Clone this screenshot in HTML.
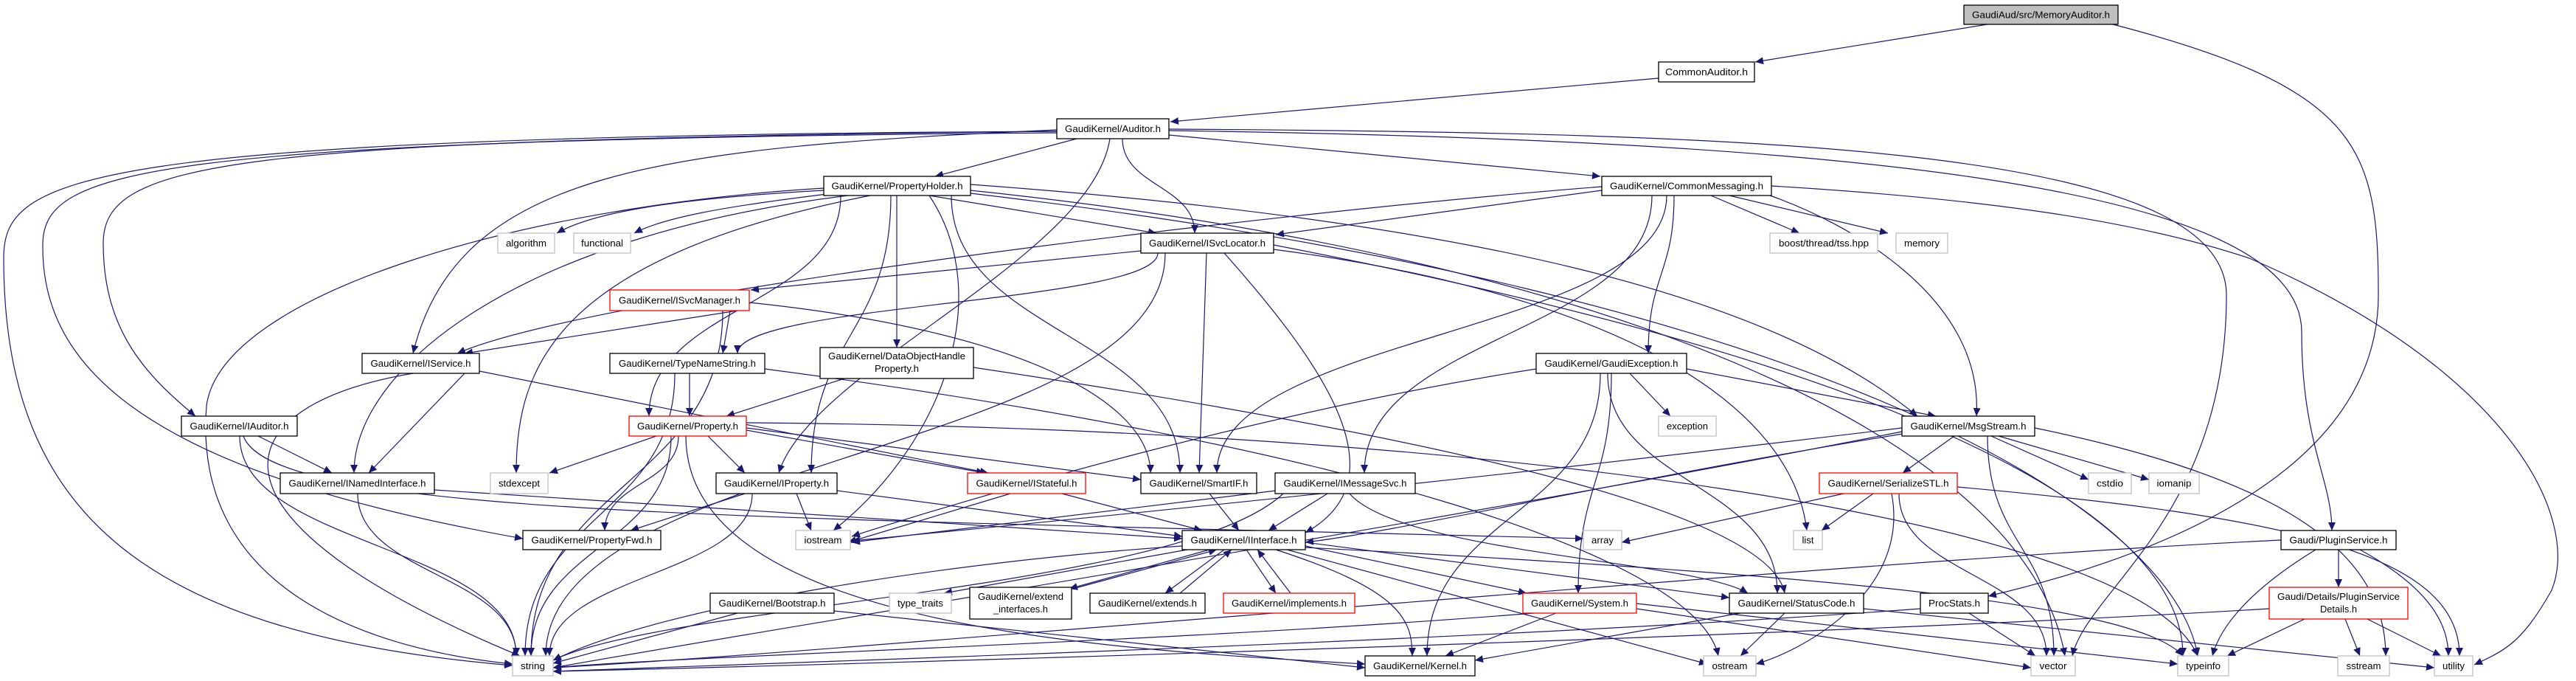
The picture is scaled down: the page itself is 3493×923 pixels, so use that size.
<!DOCTYPE html>
<html><head><meta charset="utf-8"><style>
html,body{margin:0;padding:0;background:#fff;}
svg{display:block;}
text{font-family:"Liberation Sans",sans-serif;font-size:12.5px;fill:#000;}
</style></head><body>
<svg width="3493" height="923" viewBox="0 0 3493 923" xmlns="http://www.w3.org/2000/svg">
<defs><marker id="a" markerUnits="userSpaceOnUse" markerWidth="12" markerHeight="10" refX="11" refY="5" orient="auto"><path d="M0,0 L11,5 L0,10 z" fill="#191970"/></marker></defs>
<g fill="none" stroke="#191970" stroke-width="1.2" marker-end="url(#a)">
<path d="M2695 33 L2380 84"/>
<path d="M2865 33 C3200 120 3225 200 3225 400 C3225 650 2900 760 2696 808"/>
<path d="M2249 106 L1587 165"/>
<path d="M1460 188 L1268 239"/>
<path d="M1522 188 C1522 252 1620 252 1620 316"/>
<path d="M1585 183 L2170 239"/>
<path d="M1433 176 C900 200 620 230 560 479"/>
<path d="M1433 178 C300 190 140 220 140 330 C140 450 200 510 265 564"/>
<path d="M1433 180 C200 190 60 230 58 330 C55 500 200 640 709 730"/>
<path d="M1433 178 C100 185 5 240 5 350 C5 700 200 860 695 902"/>
<path d="M1505 188 C1480 350 1100 500 1056 641"/>
<path d="M1585 175 C2400 180 3019 200 3019 400 C3019 700 2830 800 2810 889"/>
<path d="M1585 177 C2500 190 3121 250 3121 450 C3121 600 3162 650 3162 719"/>
<path d="M1117 258 C900 270 800 290 755 316"/>
<path d="M1130 262 C980 280 900 295 860 316"/>
<path d="M1260 265 L1568 316"/>
<path d="M1117 255 C700 280 300 400 280 550 C260 800 500 880 695 900"/>
<path d="M1150 265 C700 320 480 500 480 641"/>
<path d="M1140 265 C1140 415 880 415 880 564"/>
<path d="M1216 265 L1216 471"/>
<path d="M1208 265 C1208 453 1100 453 1100 641"/>
<path d="M1260 265 C1350 400 1280 600 1130 719"/>
<path d="M1180 265 C750 350 700 500 700 641"/>
<path d="M1290 265 C1290 453 1600 453 1600 641"/>
<path d="M1316 250 C2000 300 2400 400 2600 564"/>
<path d="M1316 258 C2200 350 2750 600 2800 889"/>
<path d="M1316 262 C2500 400 2950 700 2980 889"/>
<path d="M2172 258 L1730 318"/>
<path d="M2320 265 L2440 316"/>
<path d="M2345 265 L2560 316"/>
<path d="M2400 265 C2500 300 2690 400 2680 564"/>
<path d="M2270 265 C2270 372 2235 372 2235 479"/>
<path d="M2240 265 C2240 453 1850 453 1850 641"/>
<path d="M2260 265 C2260 453 1650 453 1650 641"/>
<path d="M2402 252 C2700 270 2900 300 3050 350 C3400 500 3500 700 3460 800 C3420 870 3400 880 3355 901"/>
<path d="M2172 253 C1700 290 800 400 620 479"/>
<path d="M1547 340 L1018 393"/>
<path d="M1570 343 C1570 411 1000 411 1000 479"/>
<path d="M1636 343 L1626 641"/>
<path d="M1660 343 C1800 500 1900 650 1770 722"/>
<path d="M1580 343 C1580 616 740 616 740 889"/>
<path d="M1727 338 C2200 400 2430 550 2450 719"/>
<path d="M1727 332 C2600 500 2960 700 2960 889"/>
<path d="M1000 421 L630 479"/>
<path d="M990 421 L980 479"/>
<path d="M980 421 C980 655 720 655 720 889"/>
<path d="M1016 410 C1400 450 1560 550 1560 641"/>
<path d="M630 506 L500 641"/>
<path d="M560 506 C300 550 250 700 705 889"/>
<path d="M650 503 L1340 641"/>
<path d="M935 506 L935 564"/>
<path d="M915 506 C915 698 712 698 712 889"/>
<path d="M1037 500 C1800 600 2300 750 2330 889"/>
<path d="M1145 513 L985 564"/>
<path d="M1320 498 C2000 600 2400 700 2420 804"/>
<path d="M2210 506 L2265 564"/>
<path d="M2287 500 L2625 564"/>
<path d="M2180 506 C2180 655 2410 655 2410 804"/>
<path d="M2185 506 C2185 655 2140 655 2140 804"/>
<path d="M2170 506 C2170 698 1935 698 1935 889"/>
<path d="M2083 500 C1700 560 1300 680 1155 727"/>
<path d="M350 591 L450 641"/>
<path d="M325 591 C325 740 700 740 700 889"/>
<path d="M330 591 C370 700 1000 700 2147 730"/>
<path d="M890 591 L745 641"/>
<path d="M960 591 L1010 641"/>
<path d="M920 591 C920 655 820 655 820 719"/>
<path d="M910 591 C910 740 720 740 720 889"/>
<path d="M1012 580 L1547 650"/>
<path d="M930 591 C930 850 1500 880 1851 900"/>
<path d="M1012 573 C2000 580 2900 700 2980 889"/>
<path d="M1012 583 L1335 641"/>
<path d="M485 669 C485 779 700 779 700 889"/>
<path d="M589 664 L1603 730"/>
<path d="M1010 669 L855 719"/>
<path d="M1080 669 L1100 719"/>
<path d="M1020 669 C1020 779 745 779 745 889"/>
<path d="M1135 665 L1603 727"/>
<path d="M1440 669 L1630 719"/>
<path d="M1370 669 L1150 735"/>
<path d="M1640 669 L1680 719"/>
<path d="M1800 669 L1720 719"/>
<path d="M1740 669 C1600 800 900 820 750 895"/>
<path d="M1730 665 L1155 735"/>
<path d="M1830 669 C1900 750 2300 760 2370 804"/>
<path d="M2650 591 L2580 641"/>
<path d="M2700 591 L2832 650"/>
<path d="M2710 591 L2914 650"/>
<path d="M2695 591 C2695 740 2785 740 2785 889"/>
<path d="M2579 585 C2000 700 1000 860 750 905"/>
<path d="M2579 580 C2000 650 1500 700 1155 733"/>
<path d="M2759 580 C3100 650 3235 750 3235 889"/>
<path d="M2580 588 C2200 650 1900 720 1770 735"/>
<path d="M2500 669 L2199 735"/>
<path d="M2540 669 L2470 719"/>
<path d="M2565 669 C2590 800 2450 880 2381 900"/>
<path d="M2575 669 C2575 779 2775 779 2775 889"/>
<path d="M2654 660 C3100 700 3335 750 3335 889"/>
<path d="M1610 745 L1280 804"/>
<path d="M1640 745 L1450 798"/>
<path d="M1455 798 L1650 745"/>
<path d="M1660 745 L1580 804"/>
<path d="M1600 804 L1670 745"/>
<path d="M1690 745 L1730 804"/>
<path d="M1750 804 L1705 745"/>
<path d="M1770 740 L2070 804"/>
<path d="M1770 735 L2345 810"/>
<path d="M1730 745 C1900 800 1915 840 1915 889"/>
<path d="M1770 742 C2500 780 2900 820 2960 889"/>
<path d="M1745 745 L2315 900"/>
<path d="M1603 740 C1300 760 900 820 750 895"/>
<path d="M2110 831 L1960 889"/>
<path d="M2080 831 C1600 870 900 890 750 905"/>
<path d="M2219 825 L2754 905"/>
<path d="M2219 818 L2953 900"/>
<path d="M2420 831 L2360 889"/>
<path d="M2360 831 L2000 895"/>
<path d="M2527 825 L3301 905"/>
<path d="M1000 831 L750 899"/>
<path d="M1131 828 L1851 905"/>
<path d="M2670 831 L2760 889"/>
<path d="M2604 825 C2000 870 1000 900 750 910"/>
<path d="M3171 745 L3171 796"/>
<path d="M3140 745 C3050 800 3010 850 3000 889"/>
<path d="M3093 732 C2500 760 1200 880 750 905"/>
<path d="M3200 745 C3300 800 3320 850 3320 889"/>
<path d="M3180 839 L3200 889"/>
<path d="M3210 839 L3310 889"/>
<path d="M3125 839 L3020 889"/>
<path d="M3077 825 C2500 860 1200 900 750 910"/>
</g>
<g stroke-width="1.3">
<rect x="2663" y="7" width="209" height="26" fill="#bfbfbf" stroke="#000"/><text x="2767.5" y="24.5" text-anchor="middle" textLength="187" lengthAdjust="spacingAndGlyphs">GaudiAud/src/MemoryAuditor.h</text>
<rect x="2249" y="84" width="130" height="27" fill="#fff" stroke="#000"/><text x="2314" y="102" text-anchor="middle" textLength="112" lengthAdjust="spacingAndGlyphs">CommonAuditor.h</text>
<rect x="1433" y="161" width="152" height="27" fill="#fff" stroke="#000"/><text x="1509" y="179" text-anchor="middle" textLength="130" lengthAdjust="spacingAndGlyphs">GaudiKernel/Auditor.h</text>
<rect x="1117" y="239" width="199" height="26" fill="#fff" stroke="#000"/><text x="1216.5" y="256.5" text-anchor="middle" textLength="178" lengthAdjust="spacingAndGlyphs">GaudiKernel/PropertyHolder.h</text>
<rect x="2172" y="239" width="230" height="26" fill="#fff" stroke="#000"/><text x="2287" y="256.5" text-anchor="middle" textLength="208" lengthAdjust="spacingAndGlyphs">GaudiKernel/CommonMessaging.h</text>
<rect x="675" y="316" width="77" height="27" fill="#fff" stroke="#bfbfbf"/><text x="713.5" y="334" text-anchor="middle" textLength="55" lengthAdjust="spacingAndGlyphs">algorithm</text>
<rect x="778" y="316" width="77" height="27" fill="#fff" stroke="#bfbfbf"/><text x="816.5" y="334" text-anchor="middle" textLength="57" lengthAdjust="spacingAndGlyphs">functional</text>
<rect x="1547" y="316" width="180" height="27" fill="#fff" stroke="#000"/><text x="1637" y="334" text-anchor="middle" textLength="158" lengthAdjust="spacingAndGlyphs">GaudiKernel/ISvcLocator.h</text>
<rect x="2400" y="316" width="146" height="27" fill="#fff" stroke="#bfbfbf"/><text x="2473" y="334" text-anchor="middle" textLength="122" lengthAdjust="spacingAndGlyphs">boost/thread/tss.hpp</text>
<rect x="2571" y="316" width="70" height="27" fill="#fff" stroke="#bfbfbf"/><text x="2606" y="334" text-anchor="middle" textLength="48" lengthAdjust="spacingAndGlyphs">memory</text>
<rect x="827" y="393" width="189" height="28" fill="#fff" stroke="#f00"/><text x="921.5" y="411.5" text-anchor="middle" textLength="165" lengthAdjust="spacingAndGlyphs">GaudiKernel/ISvcManager.h</text>
<rect x="491" y="479" width="159" height="27" fill="#fff" stroke="#000"/><text x="570.5" y="497" text-anchor="middle" textLength="136" lengthAdjust="spacingAndGlyphs">GaudiKernel/IService.h</text>
<rect x="827" y="479" width="210" height="27" fill="#fff" stroke="#000"/><text x="932" y="497" text-anchor="middle" textLength="186" lengthAdjust="spacingAndGlyphs">GaudiKernel/TypeNameString.h</text>
<rect x="1112" y="471" width="208" height="42" fill="#fff" stroke="#000"/><text x="1216" y="487" text-anchor="middle" textLength="186" lengthAdjust="spacingAndGlyphs">GaudiKernel/DataObjectHandle</text><text x="1216" y="504" text-anchor="middle" textLength="60" lengthAdjust="spacingAndGlyphs">Property.h</text>
<rect x="2083" y="479" width="204" height="27" fill="#fff" stroke="#000"/><text x="2185" y="497" text-anchor="middle" textLength="181" lengthAdjust="spacingAndGlyphs">GaudiKernel/GaudiException.h</text>
<rect x="246" y="564" width="157" height="27" fill="#fff" stroke="#000"/><text x="324.5" y="582" text-anchor="middle" textLength="134" lengthAdjust="spacingAndGlyphs">GaudiKernel/IAuditor.h</text>
<rect x="853" y="564" width="159" height="27" fill="#fff" stroke="#f00"/><text x="932.5" y="582" text-anchor="middle" textLength="137" lengthAdjust="spacingAndGlyphs">GaudiKernel/Property.h</text>
<rect x="2249" y="564" width="78" height="27" fill="#fff" stroke="#bfbfbf"/><text x="2288" y="582" text-anchor="middle" textLength="56" lengthAdjust="spacingAndGlyphs">exception</text>
<rect x="2579" y="564" width="180" height="27" fill="#fff" stroke="#000"/><text x="2669" y="582" text-anchor="middle" textLength="157" lengthAdjust="spacingAndGlyphs">GaudiKernel/MsgStream.h</text>
<rect x="380" y="641" width="209" height="28" fill="#fff" stroke="#000"/><text x="484.5" y="659.5" text-anchor="middle" textLength="186" lengthAdjust="spacingAndGlyphs">GaudiKernel/INamedInterface.h</text>
<rect x="665" y="641" width="78" height="28" fill="#fff" stroke="#bfbfbf"/><text x="704" y="659.5" text-anchor="middle" textLength="56" lengthAdjust="spacingAndGlyphs">stdexcept</text>
<rect x="971" y="641" width="164" height="28" fill="#fff" stroke="#000"/><text x="1053" y="659.5" text-anchor="middle" textLength="142" lengthAdjust="spacingAndGlyphs">GaudiKernel/IProperty.h</text>
<rect x="1312" y="641" width="160" height="28" fill="#fff" stroke="#f00"/><text x="1392" y="659.5" text-anchor="middle" textLength="137" lengthAdjust="spacingAndGlyphs">GaudiKernel/IStateful.h</text>
<rect x="1547" y="641" width="157" height="28" fill="#fff" stroke="#000"/><text x="1625.5" y="659.5" text-anchor="middle" textLength="134" lengthAdjust="spacingAndGlyphs">GaudiKernel/SmartIF.h</text>
<rect x="1729" y="641" width="190" height="28" fill="#fff" stroke="#000"/><text x="1824" y="659.5" text-anchor="middle" textLength="167" lengthAdjust="spacingAndGlyphs">GaudiKernel/IMessageSvc.h</text>
<rect x="2467" y="641" width="187" height="28" fill="#fff" stroke="#f00"/><text x="2560.5" y="659.5" text-anchor="middle" textLength="164" lengthAdjust="spacingAndGlyphs">GaudiKernel/SerializeSTL.h</text>
<rect x="2832" y="641" width="58" height="28" fill="#fff" stroke="#bfbfbf"/><text x="2861" y="659.5" text-anchor="middle" textLength="36" lengthAdjust="spacingAndGlyphs">cstdio</text>
<rect x="2914" y="641" width="68" height="28" fill="#fff" stroke="#bfbfbf"/><text x="2948" y="659.5" text-anchor="middle" textLength="47" lengthAdjust="spacingAndGlyphs">iomanip</text>
<rect x="709" y="719" width="187" height="26" fill="#fff" stroke="#000"/><text x="802.5" y="736.5" text-anchor="middle" textLength="164" lengthAdjust="spacingAndGlyphs">GaudiKernel/PropertyFwd.h</text>
<rect x="1079" y="719" width="74" height="26" fill="#fff" stroke="#bfbfbf"/><text x="1116" y="736.5" text-anchor="middle" textLength="51" lengthAdjust="spacingAndGlyphs">iostream</text>
<rect x="1603" y="719" width="167" height="26" fill="#fff" stroke="#000"/><text x="1686.5" y="736.5" text-anchor="middle" textLength="144" lengthAdjust="spacingAndGlyphs">GaudiKernel/IInterface.h</text>
<rect x="2147" y="719" width="52" height="26" fill="#fff" stroke="#bfbfbf"/><text x="2173" y="736.5" text-anchor="middle" textLength="30" lengthAdjust="spacingAndGlyphs">array</text>
<rect x="2432" y="719" width="39" height="26" fill="#fff" stroke="#bfbfbf"/><text x="2451.5" y="736.5" text-anchor="middle" textLength="16" lengthAdjust="spacingAndGlyphs">list</text>
<rect x="3093" y="719" width="156" height="26" fill="#fff" stroke="#000"/><text x="3171" y="736.5" text-anchor="middle" textLength="133" lengthAdjust="spacingAndGlyphs">Gaudi/PluginService.h</text>
<rect x="963" y="804" width="168" height="27" fill="#fff" stroke="#000"/><text x="1047" y="822" text-anchor="middle" textLength="145" lengthAdjust="spacingAndGlyphs">GaudiKernel/Bootstrap.h</text>
<rect x="1206" y="804" width="84" height="27" fill="#fff" stroke="#bfbfbf"/><text x="1248" y="822" text-anchor="middle" textLength="62" lengthAdjust="spacingAndGlyphs">type_traits</text>
<rect x="1315" y="796" width="138" height="43" fill="#fff" stroke="#000"/><text x="1384" y="813" text-anchor="middle" textLength="116" lengthAdjust="spacingAndGlyphs">GaudiKernel/extend</text><text x="1384" y="830" text-anchor="middle" textLength="74" lengthAdjust="spacingAndGlyphs">_interfaces.h</text>
<rect x="1478" y="804" width="156" height="27" fill="#fff" stroke="#000"/><text x="1556" y="822" text-anchor="middle" textLength="134" lengthAdjust="spacingAndGlyphs">GaudiKernel/extends.h</text>
<rect x="1659" y="804" width="178" height="27" fill="#fff" stroke="#f00"/><text x="1748" y="822" text-anchor="middle" textLength="156" lengthAdjust="spacingAndGlyphs">GaudiKernel/implements.h</text>
<rect x="2065" y="804" width="154" height="27" fill="#fff" stroke="#f00"/><text x="2142" y="822" text-anchor="middle" textLength="132" lengthAdjust="spacingAndGlyphs">GaudiKernel/System.h</text>
<rect x="2345" y="804" width="182" height="27" fill="#fff" stroke="#000"/><text x="2436" y="822" text-anchor="middle" textLength="159" lengthAdjust="spacingAndGlyphs">GaudiKernel/StatusCode.h</text>
<rect x="2604" y="804" width="92" height="27" fill="#fff" stroke="#000"/><text x="2650" y="822" text-anchor="middle" textLength="70" lengthAdjust="spacingAndGlyphs">ProcStats.h</text>
<rect x="3077" y="796" width="188" height="43" fill="#fff" stroke="#f00"/><text x="3171" y="813" text-anchor="middle" textLength="166" lengthAdjust="spacingAndGlyphs">Gaudi/Details/PluginService</text><text x="3171" y="830" text-anchor="middle" textLength="50" lengthAdjust="spacingAndGlyphs">Details.h</text>
<rect x="695" y="889" width="55" height="27" fill="#fff" stroke="#bfbfbf"/><text x="722.5" y="907" text-anchor="middle" textLength="33" lengthAdjust="spacingAndGlyphs">string</text>
<rect x="1851" y="889" width="149" height="27" fill="#fff" stroke="#000"/><text x="1925.5" y="907" text-anchor="middle" textLength="127" lengthAdjust="spacingAndGlyphs">GaudiKernel/Kernel.h</text>
<rect x="2310" y="889" width="71" height="27" fill="#fff" stroke="#bfbfbf"/><text x="2345.5" y="907" text-anchor="middle" textLength="48" lengthAdjust="spacingAndGlyphs">ostream</text>
<rect x="2754" y="889" width="60" height="27" fill="#fff" stroke="#bfbfbf"/><text x="2784" y="907" text-anchor="middle" textLength="37" lengthAdjust="spacingAndGlyphs">vector</text>
<rect x="2953" y="889" width="69" height="27" fill="#fff" stroke="#bfbfbf"/><text x="2987.5" y="907" text-anchor="middle" textLength="47" lengthAdjust="spacingAndGlyphs">typeinfo</text>
<rect x="3170" y="889" width="70" height="27" fill="#fff" stroke="#bfbfbf"/><text x="3205" y="907" text-anchor="middle" textLength="47" lengthAdjust="spacingAndGlyphs">sstream</text>
<rect x="3301" y="889" width="52" height="27" fill="#fff" stroke="#bfbfbf"/><text x="3327" y="907" text-anchor="middle" textLength="30" lengthAdjust="spacingAndGlyphs">utility</text>
</g>
</svg>
</body></html>
